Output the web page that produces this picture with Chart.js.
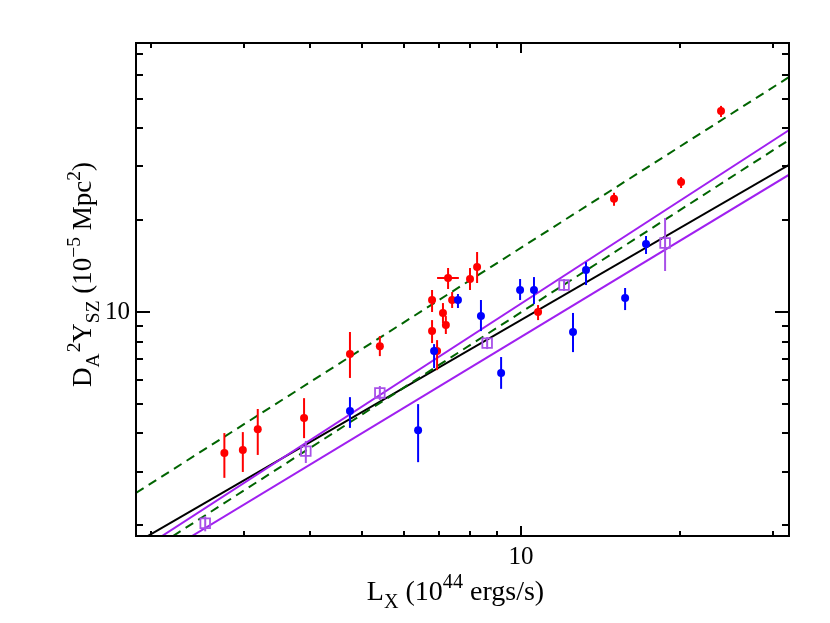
<!DOCTYPE html>
<html><head><meta charset="utf-8">
<script src="https://cdn.jsdelivr.net/npm/chart.js@4.4.0/dist/chart.umd.min.js"></script>
<style>html,body{margin:0;padding:0;background:#fff}</style>
</head><body>
<canvas id="c" width="830" height="623"></canvas>
<script>
// ---- axis settings ----
const X_MIN = 1.872, X_MAX = 32.1;
const Y_MIN = 1.844, Y_MAX = 76.2;
const xTickVals = [2,3,4,5,6,7,8,9,10,20,30];
const yTickVals = [2,3,4,5,6,7,8,9,10,20,30,40,50,60,70];
const majorTicks = [10];

// ---- red sample ----
const redLx   = [2.75,2.98,3.18,3.89,4.75,5.41,6.79,6.79,6.94,7.12,7.21,7.28,7.41,8.01,8.26,10.77,14.99,20.07,23.88];
const redY    = [3.45,3.53,4.13,4.49,7.28,7.73,10.95,8.66,7.45,9.93,9.06,12.93,10.95,12.83,14.04,10.0,23.5,26.7,45.6];
const redYlo  = [2.86,2.99,3.40,3.86,6.08,7.17,10.0,7.91,6.45,9.20,8.47,11.9,10.31,11.81,12.45,9.41,22.3,25.5,43.6];
const redYhi  = [4.01,4.04,4.81,5.22,8.60,8.34,11.81,9.41,8.09,10.70,9.70,13.94,11.63,13.94,15.73,10.54,24.6,27.7,47.4];
const redXlo  = [null,null,null,null,null,null,null,null,null,null,null,6.94,null,null,null,null,null,null,null];
const redXhi  = [null,null,null,null,null,null,null,null,null,null,null,7.63,null,null,null,null,null,null,null];

// ---- blue sample ----
const blueLx  = [4.75,6.39,6.85,7.60,8.40,9.17,9.96,10.58,12.54,13.27,15.73,17.23];
const blueY   = [4.74,4.10,7.45,10.95,9.70,6.31,11.81,11.81,8.60,13.73,11.11,16.71];
const blueYlo = [4.17,3.22,6.55,10.31,8.66,5.60,10.95,10.62,7.39,12.26,10.15,15.50];
const blueYhi = [5.26,4.99,7.85,11.46,10.95,7.12,12.83,13.02,9.93,14.58,11.99,17.75];

// ---- purple squares ----
const purpLx  = [2.53,3.92,5.41,8.63,12.06,18.72];
const purpY   = [2.03,3.50,5.43,7.91,12.26,16.84];
const purpYlo = [1.91,3.20,5.15,7.56,11.72,13.63];
const purpYhi = [2.14,3.78,5.72,8.28,12.83,20.33];

// ---- fitted relations (end points) ----
const blackFitX = [1.955, 32.54], blackFitY = [1.829, 30.8];
const purpUpX   = [2.096, 32.54], purpUpY   = [1.843, 40.1];
const purpLoX   = [2.388, 32.54], purpLoY   = [1.843, 28.6];
const greenUpX  = [1.872, 32.54], greenUpY  = [2.551, 59.8];
const greenLoX  = [2.199, 32.54], greenLoY  = [1.843, 37.2];

const RED = '#ff0000', BLUE = '#0000ff', PURPLE = '#a020f0', SQ = '#a850e8', GREEN = '#006400';
const FONT = "'Liberation Serif', 'Times New Roman', serif";

const pts = (xs, ys) => xs.map((x,i)=>({x:x, y:ys[i]}));

function lineDs(xs, ys, color, dash){
  return {type:'line', data:pts(xs,ys), borderColor:color, borderWidth:2, borderDash:dash||[],
          pointRadius:0, fill:false, tension:0, order:5, showLine:true};
}
function pointDs(xs, ys, lo, hi, color, style, xlo, xhi){
  const sq = style==='rect';
  return {type:'scatter', data:pts(xs,ys), errLo:lo, errHi:hi, errXLo:xlo, errXHi:xhi, errColor:color,
    pointStyle:style, pointRadius: sq?6.8:4, borderWidth: sq?1.8:0,
    borderColor:color, backgroundColor: sq?'rgba(255,255,255,0)':color, order:1};
}

const errPlugin = {
  id:'errbars',
  beforeDatasetDraw(chart, args){
    const ds = chart.data.datasets[args.index];
    if(!ds.errLo) return;
    const c = chart.ctx, xs = chart.scales.x, ys = chart.scales.y;
    c.save();
    c.strokeStyle = ds.errColor; c.lineWidth = 2;
    ds.data.forEach((p,i)=>{
      const px = xs.getPixelForValue(p.x);
      c.beginPath();
      c.moveTo(px, ys.getPixelForValue(ds.errLo[i]));
      c.lineTo(px, ys.getPixelForValue(ds.errHi[i]));
      c.stroke();
      if(ds.errXLo && ds.errXLo[i]!=null){
        const py = ys.getPixelForValue(p.y);
        c.beginPath();
        c.moveTo(xs.getPixelForValue(ds.errXLo[i]), py);
        c.lineTo(xs.getPixelForValue(ds.errXHi[i]), py);
        c.stroke();
      }
    });
    c.restore();
  }
};

const framePlugin = {
  id:'frame',
  afterDraw(chart){
    const c = chart.ctx, a = chart.chartArea, xs = chart.scales.x, ys = chart.scales.y;
    c.save();
    c.strokeStyle = '#000'; c.lineWidth = 2;
    c.strokeRect(a.left, a.top, a.right-a.left, a.bottom-a.top);
    c.beginPath();
    xTickVals.forEach(v=>{
      const px = Math.round(xs.getPixelForValue(v));
      const L = majorTicks.includes(v) ? 10 : 5;
      c.moveTo(px, a.bottom); c.lineTo(px, a.bottom-L);
      c.moveTo(px, a.top); c.lineTo(px, a.top+L);
    });
    yTickVals.forEach(v=>{
      const py = Math.round(ys.getPixelForValue(v));
      const L = majorTicks.includes(v) ? 14 : 7;
      c.moveTo(a.left, py); c.lineTo(a.left+L, py);
      c.moveTo(a.right, py); c.lineTo(a.right-L, py);
    });
    c.stroke();
    c.restore();
  }
};

function richWidth(c, segs, size){
  let w = 0;
  segs.forEach(s=>{
    const fs = (s.sub||s.sup) ? size*0.72 : size;
    c.font = fs+'px '+FONT;
    w += c.measureText(s.t).width + (s.dx||0);
  });
  return w;
}
function drawRich(c, segs, size){
  let w = richWidth(c, segs, size);
  let x = -w/2;
  segs.forEach(s=>{
    const fs = (s.sub||s.sup) ? size*0.72 : size;
    c.font = fs+'px '+FONT;
    const dy = s.sub ? size*0.28 : (s.sup ? -size*0.42 : 0);
    x += (s.dx||0);
    c.fillText(s.t, x, dy);
    x += c.measureText(s.t).width;
  });
}

const xTitle = [{t:'L'},{t:'X',sub:true},{t:' (10'},{t:'44',sup:true},{t:' ergs/s)'}];
const yTitle = [{t:'D'},{t:'A',sub:true},{t:'2',sup:true,dx:1},{t:'Y'},{t:'SZ',sub:true},{t:' (10'},{t:'\u22125',sup:true},{t:' Mpc'},{t:'2',sup:true},{t:')'}];

const titlePlugin = {
  id:'titles',
  afterDraw(chart){
    const c = chart.ctx, a = chart.chartArea;
    c.save();
    c.fillStyle = '#000'; c.textBaseline = 'alphabetic'; c.textAlign = 'left';
    c.translate((a.left+a.right)/2 - 7, a.bottom + 64);
    drawRich(c, xTitle, 28);
    c.restore();
    c.save();
    c.fillStyle = '#000'; c.textBaseline = 'alphabetic'; c.textAlign = 'left';
    c.translate(a.left - 45, (a.top+a.bottom)/2 - 15);
    c.rotate(-Math.PI/2);
    drawRich(c, yTitle, 27);
    c.restore();
  }
};

const tickFont = {family:FONT, size:25};
new Chart(document.getElementById('c'), {
  type:'scatter',
  data:{datasets:[
    lineDs(greenUpX, greenUpY, GREEN, [9,6]),
    lineDs(greenLoX, greenLoY, GREEN, [9,6]),
    lineDs(purpUpX, purpUpY, PURPLE),
    lineDs(purpLoX, purpLoY, PURPLE),
    lineDs(blackFitX, blackFitY, '#000'),
    pointDs(purpLx, purpY, purpYlo, purpYhi, SQ, 'rect'),
    pointDs(blueLx, blueY, blueYlo, blueYhi, BLUE, 'circle'),
    pointDs(redLx, redY, redYlo, redYhi, RED, 'circle', redXlo, redXhi)
  ]},
  options:{
    responsive:false, animation:false, devicePixelRatio:1,
    layout:{padding:{left:0, right:41, top:43, bottom:0}},
    plugins:{legend:{display:false}, tooltip:{enabled:false}},
    scales:{
      x:{type:'logarithmic', min:X_MIN, max:X_MAX,
         grid:{display:false, drawTicks:false}, border:{display:false},
         ticks:{autoSkip:false, maxRotation:0, padding:6, font:tickFont, color:'#000',
                callback:(v)=> majorTicks.includes(v) ? String(v) : ''},
         afterBuildTicks:(s)=>{ s.ticks = xTickVals.map(v=>({value:v})); },
         afterFit:(s)=>{ s.height = 87; }},
      y:{type:'logarithmic', min:Y_MIN, max:Y_MAX,
         grid:{display:false, drawTicks:false}, border:{display:false},
         ticks:{autoSkip:false, padding:6, font:tickFont, color:'#000',
                callback:(v)=> majorTicks.includes(v) ? String(v) : ''},
         afterBuildTicks:(s)=>{ s.ticks = yTickVals.map(v=>({value:v})); },
         afterFit:(s)=>{ s.width = 136; }}
    }
  },
  plugins:[errPlugin, framePlugin, titlePlugin]
});
</script>
</body></html>
